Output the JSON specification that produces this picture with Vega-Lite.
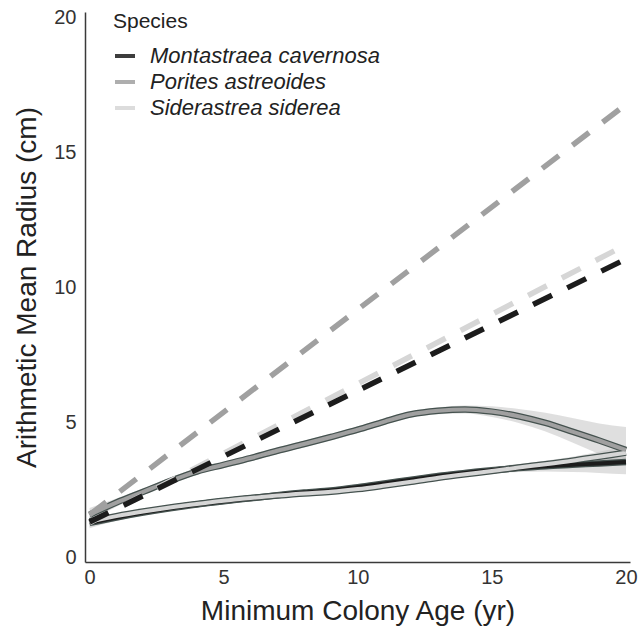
{
  "$schema": "https://vega.github.io/schema/vega-lite/v6.json",
  "width": 545,
  "height": 550,
  "autosize": {"type": "none"},
  "padding": {"left": 85, "top": 12, "right": 10, "bottom": 67},
  "config": {
    "font": "Liberation Sans",
    "view": {"stroke": null},
    "axis": {
      "grid": false,
      "ticks": false,
      "domainColor": "#3a3a3a",
      "domainWidth": 1.5,
      "labelFontSize": 20,
      "labelColor": "#333333",
      "titleFontSize": 28,
      "titleFontWeight": "normal",
      "titleColor": "#222222"
    }
  },
  "datasets": {
    "linear": [
      {"species": "Siderastrea siderea", "age": 0, "radius": 1.3},
      {"species": "Siderastrea siderea", "age": 20, "radius": 11.6},
      {"species": "Porites astreoides", "age": 0, "radius": 1.6},
      {"species": "Porites astreoides", "age": 20, "radius": 16.8},
      {"species": "Montastraea cavernosa", "age": 0, "radius": 1.33},
      {"species": "Montastraea cavernosa", "age": 20, "radius": 11.07}
    ],
    "smooth": [
      {"species": "Montastraea cavernosa", "age": 0, "radius": 1.3, "lo": 1.1, "hi": 1.5},
      {"species": "Montastraea cavernosa", "age": 1, "radius": 1.5, "lo": 1.38, "hi": 1.62},
      {"species": "Montastraea cavernosa", "age": 2, "radius": 1.68, "lo": 1.57, "hi": 1.79},
      {"species": "Montastraea cavernosa", "age": 3, "radius": 1.84, "lo": 1.73, "hi": 1.95},
      {"species": "Montastraea cavernosa", "age": 4, "radius": 1.98, "lo": 1.87, "hi": 2.09},
      {"species": "Montastraea cavernosa", "age": 5, "radius": 2.1, "lo": 1.99, "hi": 2.21},
      {"species": "Montastraea cavernosa", "age": 6, "radius": 2.21, "lo": 2.1, "hi": 2.32},
      {"species": "Montastraea cavernosa", "age": 7, "radius": 2.32, "lo": 2.21, "hi": 2.43},
      {"species": "Montastraea cavernosa", "age": 8, "radius": 2.42, "lo": 2.31, "hi": 2.53},
      {"species": "Montastraea cavernosa", "age": 9, "radius": 2.5, "lo": 2.39, "hi": 2.61},
      {"species": "Montastraea cavernosa", "age": 10, "radius": 2.62, "lo": 2.51, "hi": 2.73},
      {"species": "Montastraea cavernosa", "age": 11, "radius": 2.76, "lo": 2.65, "hi": 2.87},
      {"species": "Montastraea cavernosa", "age": 12, "radius": 2.9, "lo": 2.79, "hi": 3.01},
      {"species": "Montastraea cavernosa", "age": 13, "radius": 3.04, "lo": 2.92, "hi": 3.16},
      {"species": "Montastraea cavernosa", "age": 14, "radius": 3.15, "lo": 3.03, "hi": 3.27},
      {"species": "Montastraea cavernosa", "age": 15, "radius": 3.25, "lo": 3.12, "hi": 3.38},
      {"species": "Montastraea cavernosa", "age": 16, "radius": 3.33, "lo": 3.18, "hi": 3.48},
      {"species": "Montastraea cavernosa", "age": 17, "radius": 3.4, "lo": 3.2, "hi": 3.6},
      {"species": "Montastraea cavernosa", "age": 18, "radius": 3.45, "lo": 3.18, "hi": 3.72},
      {"species": "Montastraea cavernosa", "age": 19, "radius": 3.5, "lo": 3.15, "hi": 3.85},
      {"species": "Montastraea cavernosa", "age": 20, "radius": 3.55, "lo": 3.1, "hi": 4.0},
      {"species": "Siderastrea siderea", "age": 0, "radius": 1.35, "lo": 1.15, "hi": 1.55},
      {"species": "Siderastrea siderea", "age": 1, "radius": 1.55, "lo": 1.44, "hi": 1.66},
      {"species": "Siderastrea siderea", "age": 2, "radius": 1.72, "lo": 1.62, "hi": 1.82},
      {"species": "Siderastrea siderea", "age": 3, "radius": 1.87, "lo": 1.77, "hi": 1.97},
      {"species": "Siderastrea siderea", "age": 4, "radius": 2.0, "lo": 1.9, "hi": 2.1},
      {"species": "Siderastrea siderea", "age": 5, "radius": 2.12, "lo": 2.02, "hi": 2.22},
      {"species": "Siderastrea siderea", "age": 6, "radius": 2.22, "lo": 2.12, "hi": 2.32},
      {"species": "Siderastrea siderea", "age": 7, "radius": 2.31, "lo": 2.21, "hi": 2.41},
      {"species": "Siderastrea siderea", "age": 8, "radius": 2.39, "lo": 2.29, "hi": 2.49},
      {"species": "Siderastrea siderea", "age": 9, "radius": 2.45, "lo": 2.35, "hi": 2.55},
      {"species": "Siderastrea siderea", "age": 10, "radius": 2.55, "lo": 2.45, "hi": 2.65},
      {"species": "Siderastrea siderea", "age": 11, "radius": 2.68, "lo": 2.58, "hi": 2.78},
      {"species": "Siderastrea siderea", "age": 12, "radius": 2.82, "lo": 2.72, "hi": 2.92},
      {"species": "Siderastrea siderea", "age": 13, "radius": 2.97, "lo": 2.87, "hi": 3.07},
      {"species": "Siderastrea siderea", "age": 14, "radius": 3.1, "lo": 3.0, "hi": 3.2},
      {"species": "Siderastrea siderea", "age": 15, "radius": 3.22, "lo": 3.11, "hi": 3.33},
      {"species": "Siderastrea siderea", "age": 16, "radius": 3.35, "lo": 3.23, "hi": 3.47},
      {"species": "Siderastrea siderea", "age": 17, "radius": 3.47, "lo": 3.34, "hi": 3.6},
      {"species": "Siderastrea siderea", "age": 18, "radius": 3.6, "lo": 3.45, "hi": 3.75},
      {"species": "Siderastrea siderea", "age": 19, "radius": 3.75, "lo": 3.57, "hi": 3.93},
      {"species": "Siderastrea siderea", "age": 20, "radius": 3.9, "lo": 3.65, "hi": 4.15},
      {"species": "Porites astreoides", "age": 0, "radius": 1.6, "lo": 1.35, "hi": 1.85},
      {"species": "Porites astreoides", "age": 1, "radius": 2.05, "lo": 1.9, "hi": 2.2},
      {"species": "Porites astreoides", "age": 2, "radius": 2.45, "lo": 2.33, "hi": 2.57},
      {"species": "Porites astreoides", "age": 3, "radius": 2.85, "lo": 2.73, "hi": 2.97},
      {"species": "Porites astreoides", "age": 4, "radius": 3.2, "lo": 3.08, "hi": 3.32},
      {"species": "Porites astreoides", "age": 5, "radius": 3.45, "lo": 3.33, "hi": 3.57},
      {"species": "Porites astreoides", "age": 6, "radius": 3.7, "lo": 3.58, "hi": 3.82},
      {"species": "Porites astreoides", "age": 7, "radius": 3.97, "lo": 3.85, "hi": 4.09},
      {"species": "Porites astreoides", "age": 8, "radius": 4.22, "lo": 4.1, "hi": 4.34},
      {"species": "Porites astreoides", "age": 9, "radius": 4.48, "lo": 4.36, "hi": 4.6},
      {"species": "Porites astreoides", "age": 10, "radius": 4.75, "lo": 4.63, "hi": 4.87},
      {"species": "Porites astreoides", "age": 11, "radius": 5.05, "lo": 4.93, "hi": 5.17},
      {"species": "Porites astreoides", "age": 12, "radius": 5.32, "lo": 5.2, "hi": 5.44},
      {"species": "Porites astreoides", "age": 13, "radius": 5.45, "lo": 5.32, "hi": 5.58},
      {"species": "Porites astreoides", "age": 14, "radius": 5.5, "lo": 5.35, "hi": 5.65},
      {"species": "Porites astreoides", "age": 15, "radius": 5.42, "lo": 5.22, "hi": 5.62},
      {"species": "Porites astreoides", "age": 16, "radius": 5.25, "lo": 5.0, "hi": 5.52},
      {"species": "Porites astreoides", "age": 17, "radius": 5.0, "lo": 4.68, "hi": 5.38},
      {"species": "Porites astreoides", "age": 18, "radius": 4.68, "lo": 4.28, "hi": 5.18},
      {"species": "Porites astreoides", "age": 19, "radius": 4.35, "lo": 3.85, "hi": 4.98},
      {"species": "Porites astreoides", "age": 20, "radius": 4.0, "lo": 3.4, "hi": 4.85}
    ]
  },
  "encoding": {
    "x": {
      "field": "age",
      "type": "quantitative",
      "scale": {"domain": [-0.17, 20.15], "nice": false, "zero": false},
      "axis": {
        "title": "Minimum Colony Age (yr)",
        "values": [0, 5, 10, 15, 20],
        "labelPadding": 5,
        "titlePadding": 10
      }
    },
    "y": {
      "field": "radius",
      "type": "quantitative",
      "scale": {"domain": [-0.15, 20.22], "nice": false, "zero": false},
      "axis": {
        "title": "Arithmetic Mean Radius (cm)",
        "values": [0, 5, 10, 15, 20],
        "labelPadding": 9,
        "titlePadding": 12
      }
    }
  },
  "layer": [
    {
      "data": {"name": "smooth"},
      "mark": {"type": "area", "interpolate": "monotone", "color": "#c4c4c4", "opacity": 0.55},
      "encoding": {
        "y": {"field": "lo", "type": "quantitative"},
        "y2": {"field": "hi"},
        "detail": {"field": "species", "type": "nominal"}
      }
    },
    {
      "data": {"name": "smooth"},
      "mark": {"type": "line", "interpolate": "monotone", "color": "#45524f", "strokeWidth": 6.5, "strokeCap": "butt"},
      "encoding": {
        "detail": {"field": "species", "type": "nominal"}
      }
    },
    {
      "data": {"name": "smooth"},
      "mark": {"type": "line", "interpolate": "monotone", "strokeWidth": 4, "strokeCap": "butt"},
      "encoding": {
        "color": {"field": "species", "type": "nominal"}
      }
    },
    {
      "data": {"name": "linear"},
      "mark": {"type": "line", "strokeWidth": 5.5, "strokeDash": [21, 17], "strokeCap": "butt"},
      "encoding": {
        "color": {
          "field": "species",
          "type": "nominal",
          "scale": {
            "domain": ["Montastraea cavernosa", "Porites astreoides", "Siderastrea siderea"],
            "range": ["#1c1c1c", "#a0a0a0", "#d6d6d6"]
          },
          "legend": {
            "title": "Species",
            "orient": "none",
            "legendX": 28,
            "legendY": -1,
            "symbolType": "stroke",
            "symbolStrokeWidth": 4,
            "symbolSize": 400,
            "symbolDash": [1, 0],
            "symbolOpacity": 0.85,
            "labelFontStyle": "italic",
            "labelFontSize": 22,
            "labelLimit": 400,
            "labelColor": "#222222",
            "labelOffset": 13,
            "titleFontSize": 21,
            "titleFontWeight": "normal",
            "titleColor": "#222222",
            "titlePadding": 12,
            "rowPadding": 3
          }
        }
      }
    }
  ]
}
